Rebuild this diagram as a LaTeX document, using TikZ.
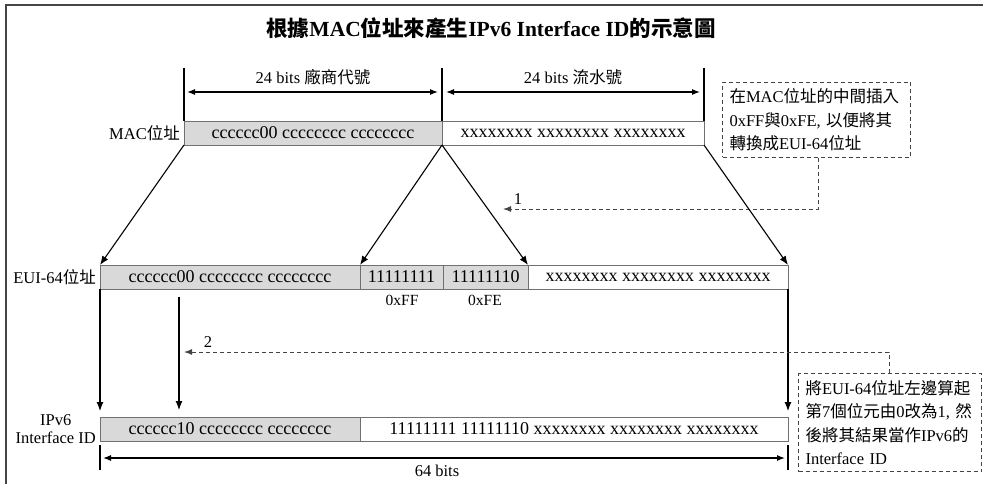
\documentclass[tikz,border=0pt]{standalone}
\usepackage{fontspec}
\setmainfont{Liberation Serif}
\newfontfamily\cjk{Noto Sans CJK TC}
\usetikzlibrary{arrows.meta}
\newcommand\zh[1]{{\cjk #1}}
\definecolor{boxgray}{HTML}{D9D9D9}
\definecolor{edgegray}{HTML}{707070}
\definecolor{dashgray}{HTML}{444444}
\definecolor{framegray}{HTML}{454545}
\tikzset{
  cell/.style={draw=edgegray, line width=0.9pt, inner sep=0pt, outer sep=0pt, anchor=north west,
    minimum height=24pt, font=\fontsize{18}{20}\selectfont},
  graycell/.style={cell, fill=boxgray},
  whitecell/.style={cell, fill=white},
  lbl/.style={font=\fontsize{16.5}{18}\selectfont, inner sep=0pt},
  small/.style={font=\fontsize{15.5}{17}\selectfont, inner sep=0pt},
  note/.style={draw=dashgray, dash pattern=on 4pt off 3pt, line width=1pt, anchor=north west,
    align=left, inner xsep=7pt, inner ysep=0pt, font=\fontsize{16.5}{23.5}\selectfont},
  arr/.style={-{Latex[length=9pt,width=7pt]}, line width=1.1pt},
  dimarr/.style={{Latex[length=8pt,width=6pt]}-{Latex[length=8pt,width=6pt]}, line width=1.1pt},
  tick/.style={line width=1.1pt},
  dasharr/.style={-{Latex[length=8pt,width=6pt]}, draw=dashgray, dash pattern=on 4pt off 3pt, line width=1pt},
}
\begin{document}
\begin{tikzpicture}[x=1pt,y=-1pt]
\useasboundingbox (0,0) rectangle (983,484);
% frame
\draw[framegray, line width=1.3pt] (6,484) -- (6,5) -- (983,5);

% title
\node[font=\bfseries\fontsize{21.5}{24}\selectfont, inner sep=0pt] (title) at (491,28)
  {\zh{根據}MAC\zh{位址來產生}IPv6 Interface ID\zh{的示意圖}};

% MAC row
\node[graycell, minimum width=258pt] (mac1) at (184,121) {cccccc00 cccccccc cccccccc};
\node[whitecell, minimum width=262pt] (mac2) at (442,121) {xxxxxxxx xxxxxxxx xxxxxxxx};
\node[lbl, anchor=east] (maclbl) at (180,133) {MAC\zh{位址}};

% top dimensions
\coordinate (t1) at (184,68);
\coordinate (t2) at (442,68);
\coordinate (t3) at (704,68);
\draw[tick] (t1) -- (mac1.north west);
\draw[tick] (t2) -- (mac1.north east);
\draw[tick] (t3) -- (mac2.north east);
\coordinate (d1a) at (187,92);
\coordinate (d1b) at (438,92);
\coordinate (d2a) at (446,92);
\coordinate (d2b) at (700,92);
\draw[dimarr] (d1a) -- (d1b);
\draw[dimarr] (d2a) -- (d2b);
\node[lbl] (dl1) at (313,77) {24 bits \zh{廠商代號}};
\node[lbl] (dl2) at (573,77) {24 bits \zh{流水號}};

% note 1
\node[note, minimum width=188pt, minimum height=75pt, text width=174pt] (note1) at (722,82)
  {\zh{在}MAC\zh{位址的中間插入}\\0xFF\zh{與}0xFE, \zh{以便將其}\\\zh{轉換成}EUI-64\zh{位址}};
\coordinate (c1) at (818,209);
\coordinate (c1tip) at (503,209);
\draw[dasharr] (note1.south -| c1) -- (c1) -- (c1tip);
\node[lbl] (n1) at (518,199) {1};

% EUI row
\node[graycell, minimum width=260pt] (eui1) at (100,265) {cccccc00 cccccccc cccccccc};
\node[graycell, minimum width=83pt] (eui2) at (360,265) {11111111};
\node[graycell, minimum width=85pt] (eui3) at (443,265) {11111110};
\node[whitecell, minimum width=260pt] (eui4) at (528,265) {xxxxxxxx xxxxxxxx xxxxxxxx};
\node[lbl, anchor=east] (euilbl) at (96,277) {EUI-64\zh{位址}};
\node[small] (ff) at (402,300) {0xFF};
\node[small] (fe) at (485,300) {0xFE};

% MAC -> EUI arrows
\draw[arr] (mac1.south west) -- (eui1.north west);
\draw[arr] (mac1.south east) -- (eui2.north west);
\draw[arr] (mac1.south east) -- (eui4.north west);
\draw[arr] (mac2.south east) -- (eui4.north east);

% IPv6 row
\node[graycell, minimum width=260pt] (ip1) at (100,417) {cccccc10 cccccccc cccccccc};
\node[whitecell, minimum width=428pt] (ip2) at (360,417) {11111111 11111110 xxxxxxxx xxxxxxxx xxxxxxxx};
\node[lbl, anchor=east, align=center, font=\fontsize{16.5}{18}\selectfont] (iplbl) at (96,429) {IPv6\\Interface ID};

% EUI -> IPv6 arrows
\coordinate (v2s) at (179,297);
\draw[arr, shorten >=6pt] (eui1.south west) -- (ip1.north west);
\draw[arr, shorten >=7pt] (v2s) -- (ip1.north west -| v2s);
\draw[arr, shorten >=6pt] (eui4.south east) -- (ip2.north east);

% note 2
\node[note, minimum width=183pt, minimum height=98pt, text width=169pt] (note2) at (798,373)
  {\zh{將}EUI-64\zh{位址左邊算起}\\\zh{第}7\zh{個位元由}0\zh{改為}1, \zh{然}\\\zh{後將其結果當作}IPv6\zh{的}\\Interface ID};
\coordinate (c2) at (889,352);
\coordinate (c2tip) at (184,352);
\draw[dasharr] (note2.north -| c2) -- (c2) -- (c2tip);
\node[lbl] (n2) at (208,342) {2};

% bottom dimension
\coordinate (b1a) at (100,445);
\coordinate (b1b) at (100,470);
\coordinate (b2a) at (788,445);
\coordinate (b2b) at (788,470);
\draw[tick] (b1a) -- (b1b);
\draw[tick] (b2a) -- (b2b);
\coordinate (bda) at (103,458);
\coordinate (bdb) at (785,458);
\draw[dimarr] (bda) -- (bdb);
\node[lbl] (bl) at (437,471) {64 bits};
\end{tikzpicture}
\end{document}
